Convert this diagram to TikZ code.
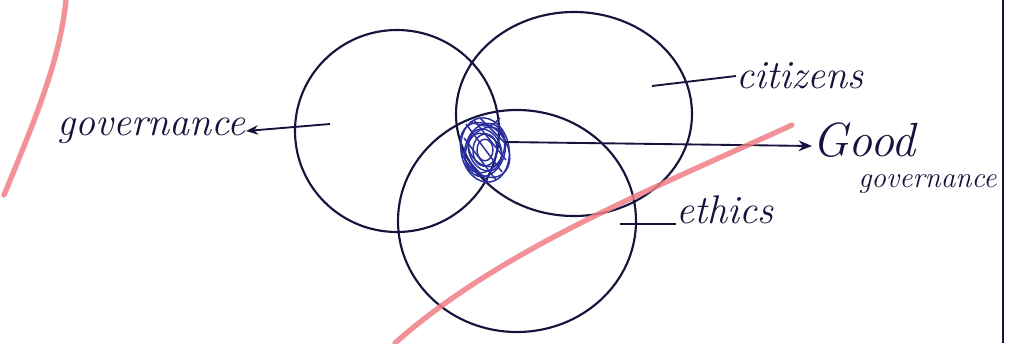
\documentclass[tikz,border=0pt]{standalone}
\usetikzlibrary{arrows.meta}
\definecolor{ink}{HTML}{14143C}
\definecolor{pen}{HTML}{2A2FA0}
\definecolor{marker}{HTML}{F07E86}
\tikzset{
  ring/.style={draw=ink, line width=1.6pt},
  leader/.style={draw=ink, line width=1.4pt},
  hand/.style={text=ink, font=\fontsize{30}{30}\selectfont\itshape, inner sep=0pt},
  scrib/.style={draw=pen, line width=1.1pt},
  redmark/.style={draw=marker, line width=4pt, line cap=round, opacity=0.85}
}
\begin{document}
\begin{tikzpicture}[x=0.75pt, y=-0.75pt]
\useasboundingbox (0,0) rectangle (1011,343);
\fill[white] (0,0) rectangle (1011,343);
% circle centres
\coordinate (cg) at (397,131);
\coordinate (cc) at (574,114);
\coordinate (ce) at (517,221);
\draw[ring] (cg) ellipse [x radius=102, y radius=101];
\draw[ring] (cc) ellipse [x radius=118, y radius=102];
\draw[ring] (ce) ellipse [x radius=119, y radius=111];
% scribbled intersection
\coordinate (core) at (485,150);
\foreach \r/\a in {24/10, 20/-15, 16/20, 12/-5, 22/35, 18/-30, 8/0, 14/45}{
  \draw[scrib, rotate around={\a:(core)}] (core) ellipse [x radius=\r, y radius=1.35*\r];
}
\draw[scrib] (466,124) -- (502,172) (474,120) -- (506,160) (464,138) -- (496,180)
  (468,160) -- (488,182) (480,118) -- (508,146) (462,150) -- (478,176)
  (470,122) .. controls (490,128) .. (500,118);
% labels
\node[hand, anchor=east] (tgov) at (246,131) {governance};
\node[hand, anchor=west] (tcit) at (736,76) {citizens};
\node[hand, anchor=west, font=\fontsize{36}{36}\selectfont\itshape] (tgood) at (812,140) {Good};
\node[hand, anchor=west] (teth) at (676,210) {ethics};
\node[hand, anchor=west, font=\fontsize{22}{22}\selectfont\itshape] (tgg) at (858,184) {governance};
% leaders
\coordinate (lg) at (330,124);
\coordinate (lc) at (652,86);
\coordinate (le) at (620,224);
\coordinate (lgood) at (505,142);
\draw[leader, -{Stealth[length=9pt,width=7pt]}] (lg) -- (tgov.east);
\draw[leader] (lc) -- (tcit.west);
\draw[leader] (le) -- (teth.west |- le);
\draw[leader, -{Stealth[length=10pt,width=8pt]}] (lgood) -- (tgood.west |- 0,146);
% frame line at right
\draw[ink, line width=1.5pt] (1003,0) -- (1003,343);
% red marker strokes
\draw[redmark] (66,0) .. controls (60,60) and (35,120) .. (4,195);
\draw[redmark] (792,125) .. controls (650,190) and (500,250) .. (395,343);
\end{tikzpicture}
\end{document}
